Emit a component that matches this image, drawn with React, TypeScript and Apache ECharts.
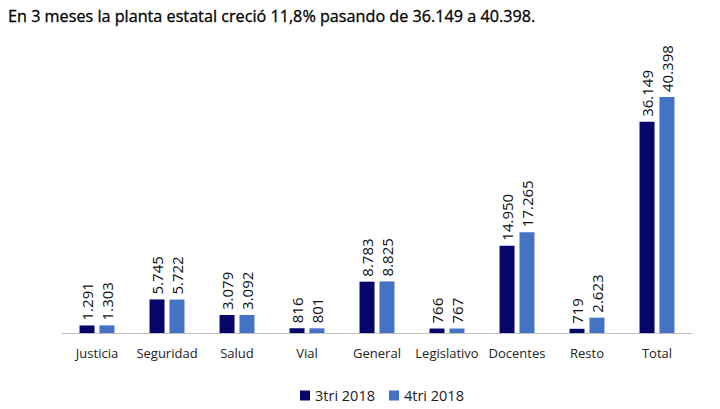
import React, { useEffect, useRef } from "react";
import * as echarts from "echarts";

const categories = ["Justicia", "Seguridad", "Salud", "Vial", "General", "Legislativo", "Docentes", "Resto", "Total"];
const tri3 = [1291, 5745, 3079, 816, 8783, 766, 14950, 719, 36149];
const tri4 = [1303, 5722, 3092, 801, 8825, 767, 17265, 2623, 40398];
const seriesNames = ["3tri 2018", "4tri 2018"];
const titleText = "En 3 meses la planta estatal creció 11,8% pasando de 36.149 a 40.398.";

const fmt = (v: number) => v.toLocaleString("de-DE");
const FONT = "'Open Sans', 'Noto Sans', sans-serif";

export default function App() {
  const ref = useRef<HTMLDivElement>(null);
  useEffect(() => {
    const chart = echarts.init(ref.current!, null, { renderer: "svg" });
    const label = {
      show: true,
      position: "top" as const,
      rotate: 90,
      align: "left" as const,
      verticalAlign: "middle" as const,
      distance: 5,
      color: "#111",
      fontSize: 15,
      fontFamily: FONT,
      formatter: (p: any) => fmt(p.value),
    };
    chart.setOption({
      animation: false,
      backgroundColor: "#fff",
      title: {
        text: titleText,
        left: 8,
        top: 8,
        padding: 0,
        textStyle: { fontSize: 16.2, fontWeight: "normal", color: "#000", fontFamily: FONT, textBorderColor: "#000", textBorderWidth: 0.3 },
      },
      legend: {
        data: seriesNames,
        top: 388,
        left: 300,
        padding: 0,
        itemWidth: 10,
        itemHeight: 10,
        itemGap: 14,
        icon: "rect",
        textStyle: { fontSize: 14.5, color: "#222", fontFamily: FONT },
      },
      grid: { left: 62, right: 28, top: 97, bottom: 76, containLabel: false },
      xAxis: {
        type: "category",
        data: categories,
        axisLine: { lineStyle: { color: "#bfbfbf" } },
        axisTick: { show: false },
        axisLabel: { fontSize: 13, color: "#222", margin: 13, fontFamily: FONT, interval: 0 },
      },
      yAxis: {
        type: "value",
        min: 0,
        max: 40398,
        show: false,
        splitLine: { show: false },
      },
      series: [
        {
          name: seriesNames[0],
          type: "bar",
          data: tri3,
          barWidth: 15,
          barGap: "33%",
          itemStyle: { color: "#06066b" },
          label,
        },
        {
          name: seriesNames[1],
          type: "bar",
          data: tri4,
          barWidth: 15,
          itemStyle: { color: "#4472c4" },
          label,
        },
      ],
    });
    return () => chart.dispose();
  }, []);
  return <div ref={ref} style={{ width: 720, height: 409, margin: -8 }} />;
}
